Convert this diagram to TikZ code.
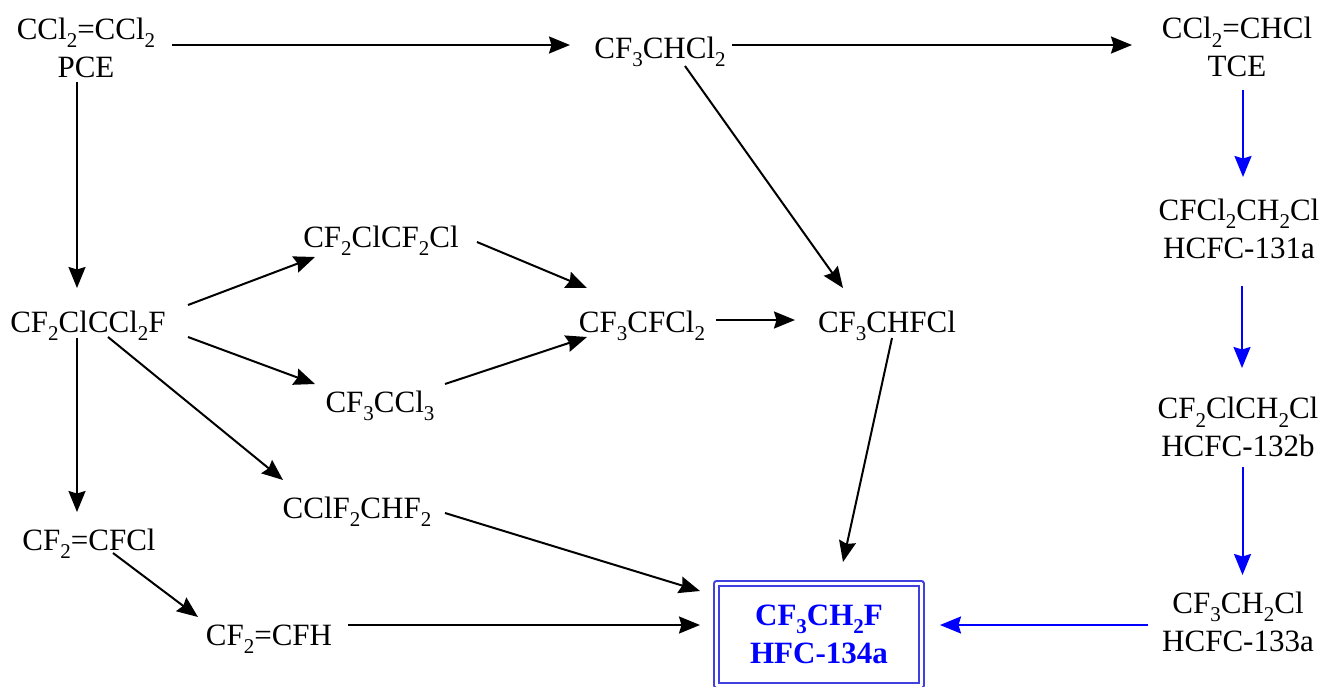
\documentclass[tikz,border=0pt]{standalone}
\usepackage{fontspec}
\setmainfont{Liberation Serif}
\usetikzlibrary{arrows.meta}
\definecolor{boxblue}{RGB}{64,64,224}
\newcommand{\su}[1]{\raisebox{-8.5pt}{\fontsize{21}{21}\selectfont#1}}

\begin{document}
\begin{tikzpicture}[x=1pt,y=-1pt,join=round,
    chem/.style={inner sep=0pt,align=center,font=\fontsize{31}{38}\selectfont},
    arr/.style={line width=2pt,-{Stealth[length=21pt,width=17pt,inset=2.5pt]}},
    blu/.style={arr,blue}] % routes to HFC-134a
  \useasboundingbox (0,0) rectangle (1325,686);
  % one-line species, set on their baselines
  \node[chem,anchor=base] (cf3chcl2) at (660,58) {CF\su{3}CHCl\su{2}};
  \node[chem,anchor=base] (cf2clccl2f) at (88,332) {CF\su{2}ClCCl\su{2}F};
  \node[chem,anchor=base] (cf2clcf2cl) at (381,247) {CF\su{2}ClCF\su{2}Cl};
  \node[chem,anchor=base] (cf3cfcl2) at (642,332) {CF\su{3}CFCl\su{2}};
  \node[chem,anchor=base] (cf3chfcl) at (887,332) {CF\su{3}CHFCl};
  \node[chem,anchor=base] (cf3ccl3) at (380,412) {CF\su{3}CCl\su{3}};
  \node[chem,anchor=base] (cclf2chf2) at (357,518) {CClF\su{2}CHF\su{2}};
  \node[chem,anchor=base] (cf2cfcl) at (89,550) {CF\su{2}=CFCl};
  \node[chem,anchor=base] (cf2cfh) at (269,645) {CF\su{2}=CFH};
  % two-line species
  \node[chem] (pce) at (86,47.4) {CCl\su{2}=CCl\su{2}\\PCE};
  \node[chem] (tce) at (1237,46.9) {CCl\su{2}=CHCl\\TCE};
  \node[chem] (hcfc131a) at (1239,228.4) {CFCl\su{2}CH\su{2}Cl\\HCFC-131a};
  \node[chem] (hcfc132b) at (1238,426.9) {CF\su{2}ClCH\su{2}Cl\\HCFC-132b};
  \node[chem] (hcfc133a) at (1238,621.4) {CF\su{3}CH\su{2}Cl\\HCFC-133a};
  \node[chem,font=\fontsize{31}{38}\selectfont\bfseries,text=blue,draw=boxblue,
        double,line width=2pt,double distance=3pt,
        minimum width=205pt,minimum height=102pt] (hfc134a) at (819,634) {CF\su{3}CH\su{2}F\\HFC-134a};
  % black routes
  \draw[arr] ([shift={(86,-2.4)}]pce.center) -- ([shift={(-90,-13)}]cf3chcl2.base);
  \draw[arr] ([shift={(72,-13)}]cf3chcl2.base) -- ([shift={(-105,-1.9)}]tce.center);
  \draw[arr] ([shift={(-9,34.6)}]pce.center) -- ([shift={(-11,-44)}]cf2clccl2f.base);
  \draw[arr] ([shift={(-11,6)}]cf2clccl2f.base) -- ([shift={(-12,-38)}]cf2cfcl.base);
  \draw[arr] ([shift={(100,-27)}]cf2clccl2f.base) -- ([shift={(-66,10)}]cf2clcf2cl.base);
  \draw[arr] ([shift={(100,5)}]cf2clccl2f.base) -- ([shift={(-65,-28)}]cf3ccl3.base);
  \draw[arr] ([shift={(20,5)}]cf2clccl2f.base) -- ([shift={(-74,-38)}]cclf2chf2.base);
  \draw[arr] ([shift={(96,-5)}]cf2clcf2cl.base) -- ([shift={(-55,-44)}]cf3cfcl2.base);
  \draw[arr] ([shift={(65,-28)}]cf3ccl3.base) -- ([shift={(-55,5)}]cf3cfcl2.base);
  \draw[arr] ([shift={(74,-12)}]cf3cfcl2.base) -- ([shift={(-92,-12)}]cf3chfcl.base);
  \draw[arr] ([shift={(25,8)}]cf3chcl2.base) -- ([shift={(-44,-44)}]cf3chfcl.base);
  \draw[arr] ([shift={(5,6)}]cf3chfcl.base) -- ([shift={(24,-72)}]hfc134a.center);
  \draw[arr] ([shift={(88,-5)}]cclf2chf2.base) -- ([shift={(-119,-43)}]hfc134a.center);
  \draw[arr] ([shift={(24,3)}]cf2cfcl.base) -- ([shift={(-71,-28)}]cf2cfh.base);
  \draw[arr] ([shift={(79,-20)}]cf2cfh.base) -- ([shift={(-119,-9)}]hfc134a.center);
  % blue route via TCE
  \draw[blu] ([shift={(6,43.1)}]tce.center) -- ([shift={(4,-51.4)}]hcfc131a.center);
  \draw[blu] ([shift={(3,57.6)}]hcfc131a.center) -- ([shift={(4,-58.9)}]hcfc132b.center);
  \draw[blu] ([shift={(4.5,40.1)}]hcfc132b.center) -- ([shift={(4.5,-46.4)}]hcfc133a.center);
  \draw[blu] ([shift={(-90,3.6)}]hcfc133a.center) -- ([shift={(121,-9)}]hfc134a.center);
\end{tikzpicture}
\end{document}
